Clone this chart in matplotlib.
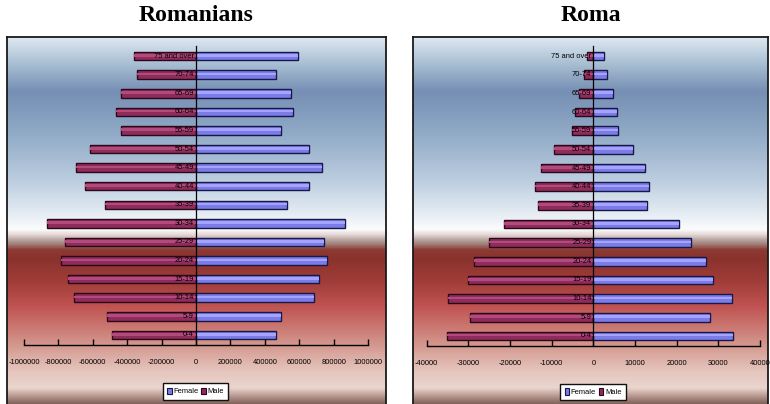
import numpy as np
import matplotlib.pyplot as plt
from matplotlib.colors import LinearSegmentedColormap
from matplotlib.patches import Patch
from matplotlib import transforms

plt.rcParams["axes.unicode_minus"] = False

# age groups, bottom to top
ages = ["0-4", "5-9", "10-14", "15-19", "20-24", "25-29", "30-34", "35-39",
        "40-44", "45-49", "50-54", "55-59", "60-64", "65-69", "70-74", "75 and over"]

# Romanians
ro_male = [487000, 516000, 709000, 744000, 787000, 760000, 868000, 527000,
           643000, 698000, 614000, 438000, 465000, 434000, 343000, 360000]
ro_female = [467000, 496000, 688000, 715000, 764000, 746000, 868000, 531000,
             659000, 734000, 659000, 492000, 562000, 554000, 463000, 595000]

# Roma
rm_male = [35200, 29700, 34900, 30100, 28700, 25000, 21400, 13200,
           14000, 12500, 9400, 5100, 4500, 3400, 2200, 1500]
rm_female = [33450, 28100, 33200, 28800, 27000, 23400, 20500, 12800,
             13300, 12500, 9450, 5850, 5700, 4800, 3350, 2650]

W, H = 770, 404
fig = plt.figure(figsize=(W / 100, H / 100), dpi=100)
fig.patch.set_facecolor("white")

SMALL = dict(family="Liberation Sans", size=5.4)
MALE_C, MALE_HI, MALE_EDGE = "#8e2c5c", "#b24a7e", "#2a0818"
FEM_C, FEM_HI, FEM_EDGE = "#7c7ce8", "#a4a4ff", "#181848"

# chart-area gradient: blue sky on top, red band below
grad = LinearSegmentedColormap.from_list("area", [
    (0.000, "#dde8f1"), (0.070, "#a9bfd3"), (0.145, "#768fb4"),
    (0.255, "#8fa9c6"), (0.390, "#bdcee0"), (0.485, "#e9eff5"),
    (0.520, "#fbfcfd"), (0.535, "#e2d6d4"), (0.548, "#b8a4a0"),
    (0.560, "#a08078"), (0.575, "#8c3a34"), (0.600, "#8a322c"),
    (0.665, "#a23e3a"), (0.730, "#c05452"), (0.830, "#d3958c"),
    (0.905, "#e5c6be"), (0.950, "#ead6ce"), (0.975, "#b09088"),
    (1.000, "#6e524a")])


def box(x0, y0, x1, y1):
    return [x0 / W, 1 - y1 / H, (x1 - x0) / W, (y1 - y0) / H]


def panel(frame, area, xmax, step, male, female, title, legend_xy):
    bg = fig.add_axes(box(*frame))
    bg.imshow(np.linspace(0, 1, 256).reshape(-1, 1), cmap=grad, aspect="auto",
              extent=[0, 1, 0, 1])
    bg.set_xticks([])
    bg.set_yticks([])
    for s in bg.spines.values():
        s.set_color("#1a1a1a")
        s.set_linewidth(1.3)

    ax = fig.add_axes(box(*area))
    ax.patch.set_alpha(0)
    y = np.arange(len(ages))
    m = -np.array(male)
    f = np.array(female)
    ax.barh(y, m, height=0.46, color=MALE_C, edgecolor=MALE_EDGE, lw=1.0, zorder=3)
    ax.barh(y + 0.04, m, height=0.14, color=MALE_HI, lw=0, zorder=4)
    ax.barh(y, f, height=0.46, color=FEM_C, edgecolor=FEM_EDGE, lw=1.0, zorder=3)
    ax.barh(y + 0.04, f, height=0.14, color=FEM_HI, lw=0, zorder=4)

    ax.set_xlim(-xmax, xmax)
    ax.set_ylim(-0.54, 15.54)
    for s in ("top", "right"):
        ax.spines[s].set_visible(False)
    ax.spines["left"].set_position(("data", 0))
    ax.spines["left"].set_zorder(5)
    ax.spines["left"].set_linewidth(0.9)
    ax.spines["bottom"].set_linewidth(1.0)
    ax.set_yticks([])
    ticks = np.arange(-xmax, xmax + 1, step)
    ax.set_xticks(ticks)
    ax.set_xticklabels([str(int(t)) for t in ticks], color="black", **SMALL)
    ax.tick_params(axis="x", direction="in", length=4, width=1.0, pad=10)

    off = transforms.offset_copy(ax.transData, fig=fig, x=-2, y=0, units="dots")
    for i, lab in enumerate(ages):
        ax.text(0, i, lab, transform=off, ha="right", va="center",
                color="black", zorder=6, **SMALL)

    cx = (frame[0] + frame[2]) / 2
    fig.text(cx / W, 1 - 15.5 / H, title, ha="center", va="center",
             family="Liberation Serif", fontweight="bold", fontsize=17)

    handles = [Patch(facecolor=FEM_C, edgecolor=FEM_EDGE, lw=0.8),
               Patch(facecolor=MALE_C, edgecolor=MALE_EDGE, lw=0.8)]
    leg = fig.legend(handles, ["Female", "Male"], loc="center",
                     bbox_to_anchor=(legend_xy[0] / W, 1 - legend_xy[1] / H),
                     ncol=2, frameon=True, fancybox=False, framealpha=1,
                     edgecolor="#111111", handlelength=0.6, handleheight=1.0,
                     handletextpad=0.2, columnspacing=0.4, borderpad=0.6,
                     borderaxespad=0, prop=SMALL)
    leg.get_frame().set_linewidth(1.0)


panel((7, 37, 386, 407), (24, 46, 368, 345), 1000000, 200000,
      ro_male, ro_female, "Romanians", (195.5, 391.5))
panel((413, 37, 768, 407), (426.7, 46, 760, 346), 40000, 10000,
      rm_male, rm_female, "Roma", (593, 392))

fig.savefig("out.png", dpi=100)
